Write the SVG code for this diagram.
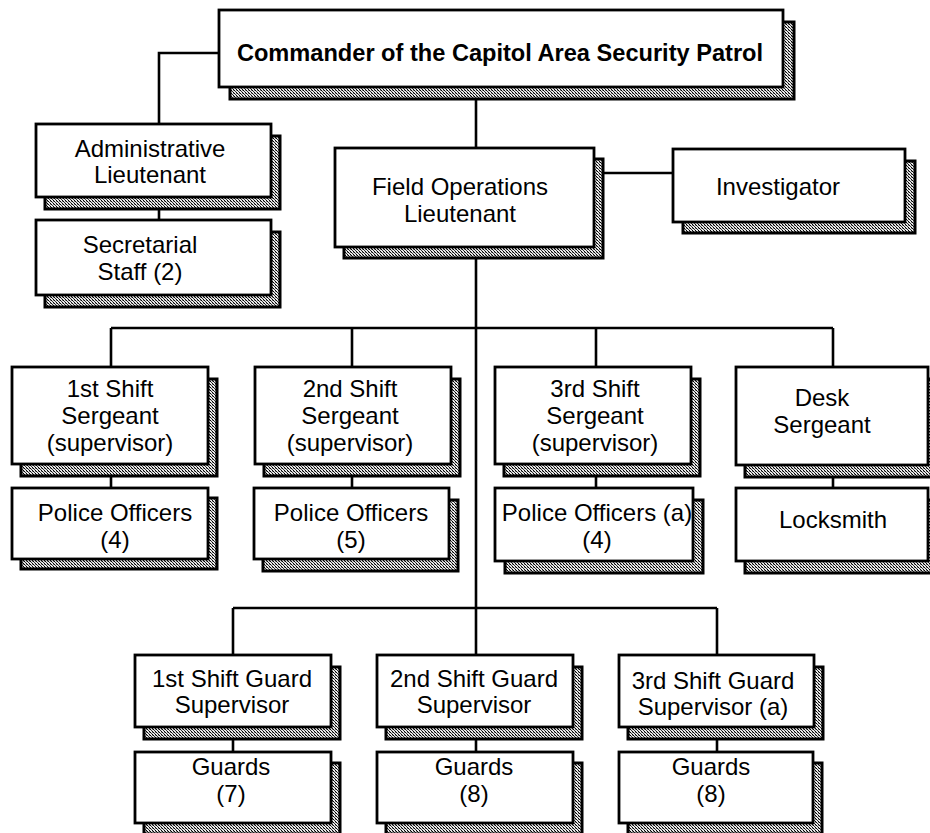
<svg xmlns="http://www.w3.org/2000/svg" width="930" height="833" viewBox="0 0 930 833">
<defs>
<pattern id="dots" width="3" height="3" patternUnits="userSpaceOnUse">
<rect width="3" height="3" fill="#e8e8e8"/>
<rect x="0" y="0" width="1" height="1" fill="#000"/>
<rect x="1" y="1" width="1" height="1" fill="#333"/>
<rect x="2" y="2" width="1" height="1" fill="#000"/>
<rect x="2" y="0" width="1" height="1" fill="#888"/>
</pattern>
</defs>
<style>
.sh{fill:url(#dots);stroke:#000;stroke-width:3}
.bx{fill:#fff;stroke:#000;stroke-width:2.8}
.t{font-family:"Liberation Sans",Arial,sans-serif;font-size:24px;fill:#000;text-anchor:middle}
.b{font-weight:bold;font-size:23.6px}
.c{fill:none;stroke:#000;stroke-width:2.6}
</style>
<rect width="930" height="833" fill="#fff"/>
<g id="connectors">
<path class="c" d="M219 53H159V124"/>
<path class="c" d="M159 197V220"/>
<path class="c" d="M476 87V148"/>
<path class="c" d="M594 173H673"/>
<path class="c" d="M476 247V655"/>
<path class="c" d="M111 328H833"/>
<path class="c" d="M111 328V367M352 328V367M596 328V367M833 328V367"/>
<path class="c" d="M111 464V488M352 464V488M596 464V488M833 465V488"/>
<path class="c" d="M233 608H717"/>
<path class="c" d="M233 608V655M717 608V655"/>
<path class="c" d="M233 727V752M476 727V752M717 727V752"/>
</g>
<g id="commander">
<rect class="sh" x="230" y="22" width="564" height="77"/>
<rect class="bx" x="219" y="10" width="564" height="77"/>
<text class="t b" x="500" y="61">Commander of the Capitol Area Security Patrol</text>
</g>
<g id="admin">
<rect class="sh" x="45" y="136" width="235" height="73"/>
<rect class="bx" x="36" y="124" width="235" height="73"/>
<text class="t" x="150" y="157">Administrative</text>
<text class="t" x="150" y="183">Lieutenant</text>
</g>
<g id="secretarial">
<rect class="sh" x="45" y="232" width="235" height="75"/>
<rect class="bx" x="36" y="220" width="235" height="75"/>
<text class="t" x="140" y="253">Secretarial</text>
<text class="t" x="140" y="280">Staff (2)</text>
</g>
<g id="field">
<rect class="sh" x="344" y="159" width="259" height="99"/>
<rect class="bx" x="335" y="148" width="259" height="99"/>
<text class="t" x="460" y="195">Field Operations</text>
<text class="t" x="460" y="222">Lieutenant</text>
</g>
<g id="investigator">
<rect class="sh" x="683" y="161" width="232" height="72"/>
<rect class="bx" x="673" y="149" width="232" height="73"/>
<text class="t" x="778" y="195">Investigator</text>
</g>
<g id="sgt1">
<rect class="sh" x="21" y="379" width="196" height="97"/>
<rect class="bx" x="12" y="367" width="196" height="97"/>
<text class="t" x="110" y="397">1st Shift</text>
<text class="t" x="110" y="424">Sergeant</text>
<text class="t" x="110" y="451">(supervisor)</text>
</g>
<g id="sgt2">
<rect class="sh" x="264" y="379" width="196" height="97"/>
<rect class="bx" x="255" y="367" width="196" height="97"/>
<text class="t" x="350" y="397">2nd Shift</text>
<text class="t" x="350" y="424">Sergeant</text>
<text class="t" x="350" y="451">(supervisor)</text>
</g>
<g id="sgt3">
<rect class="sh" x="504" y="379" width="196" height="97"/>
<rect class="bx" x="495" y="367" width="196" height="97"/>
<text class="t" x="595" y="397">3rd Shift</text>
<text class="t" x="595" y="424">Sergeant</text>
<text class="t" x="595" y="451">(supervisor)</text>
</g>
<g id="desk">
<rect class="sh" x="745" y="379" width="192" height="98"/>
<rect class="bx" x="736" y="367" width="192" height="98"/>
<text class="t" x="822" y="406">Desk</text>
<text class="t" x="822" y="433">Sergeant</text>
</g>
<g id="police1">
<rect class="sh" x="21" y="498" width="196" height="71"/>
<rect class="bx" x="12" y="488" width="196" height="71"/>
<text class="t" x="115" y="521">Police Officers</text>
<text class="t" x="115" y="548">(4)</text>
</g>
<g id="police2">
<rect class="sh" x="263" y="500" width="195" height="71"/>
<rect class="bx" x="254" y="488" width="195" height="71"/>
<text class="t" x="351" y="521">Police Officers</text>
<text class="t" x="351" y="548">(5)</text>
</g>
<g id="police3">
<rect class="sh" x="505" y="500" width="198" height="73"/>
<rect class="bx" x="495" y="488" width="198" height="73"/>
<text class="t" x="597" y="521">Police Officers (a)</text>
<text class="t" x="597" y="548">(4)</text>
</g>
<g id="locksmith">
<rect class="sh" x="745" y="500" width="192" height="73"/>
<rect class="bx" x="736" y="488" width="192" height="73"/>
<text class="t" x="833" y="528">Locksmith</text>
</g>
<g id="gsup1">
<rect class="sh" x="144" y="667" width="196" height="72"/>
<rect class="bx" x="135" y="655" width="196" height="72"/>
<text class="t" x="232" y="687">1st Shift Guard</text>
<text class="t" x="232" y="713">Supervisor</text>
</g>
<g id="gsup2">
<rect class="sh" x="386" y="667" width="196" height="72"/>
<rect class="bx" x="377" y="655" width="196" height="72"/>
<text class="t" x="474" y="687">2nd Shift Guard</text>
<text class="t" x="474" y="713">Supervisor</text>
</g>
<g id="gsup3">
<rect class="sh" x="628" y="667" width="195" height="72"/>
<rect class="bx" x="619" y="655" width="195" height="72"/>
<text class="t" x="713" y="689">3rd Shift Guard</text>
<text class="t" x="713" y="715">Supervisor (a)</text>
</g>
<g id="guards1">
<rect class="sh" x="144" y="763" width="196" height="71"/>
<rect class="bx" x="135" y="752" width="196" height="71"/>
<text class="t" x="231" y="775">Guards</text>
<text class="t" x="231" y="802">(7)</text>
</g>
<g id="guards2">
<rect class="sh" x="386" y="763" width="196" height="71"/>
<rect class="bx" x="377" y="752" width="196" height="71"/>
<text class="t" x="474" y="775">Guards</text>
<text class="t" x="474" y="802">(8)</text>
</g>
<g id="guards3">
<rect class="sh" x="628" y="763" width="194" height="71"/>
<rect class="bx" x="619" y="752" width="194" height="71"/>
<text class="t" x="711" y="775">Guards</text>
<text class="t" x="711" y="802">(8)</text>
</g>
</svg>
